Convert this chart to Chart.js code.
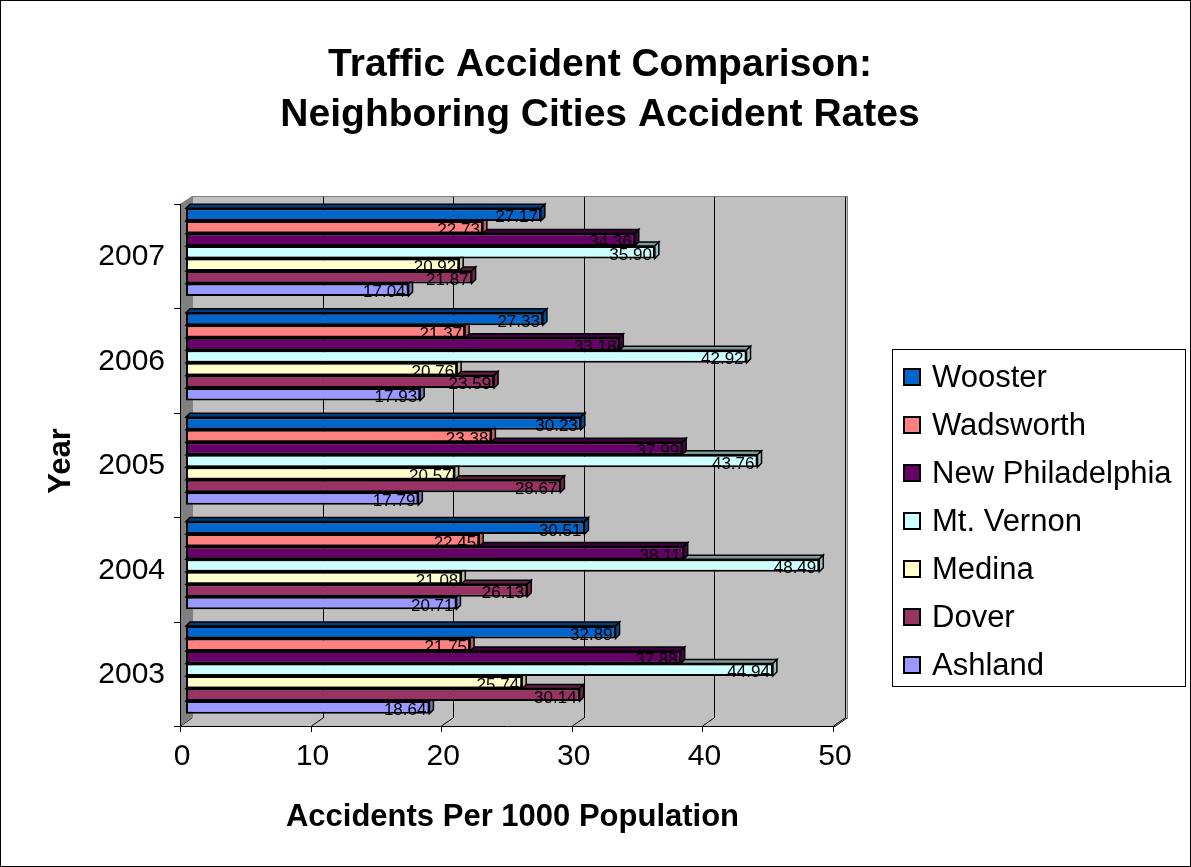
<!DOCTYPE html>
<html>
<head>
<meta charset="utf-8">
<script src="https://cdn.jsdelivr.net/npm/chart.js@4.4.0/dist/chart.umd.min.js"></script>
<style>
  html, body { margin: 0; padding: 0; background: #fff; }
</style>
</head>
<body>
<canvas id="myChart" width="1191" height="867"></canvas>
<script>
// Datos
var years = ["2007", "2006", "2005", "2004", "2003"];
var cities = ["Wooster", "Wadsworth", "New Philadelphia", "Mt. Vernon", "Medina", "Dover", "Ashland"];
var wooster    = [27.17, 27.33, 30.23, 30.51, 32.89];
var wadsworth  = [22.73, 21.37, 23.38, 22.45, 21.75];
var newPhila   = [34.36, 33.18, 37.99, 38.11, 37.88];
var mtVernon   = [35.90, 42.92, 43.76, 48.49, 44.94];
var medina     = [20.92, 20.76, 20.57, 21.08, 25.74];
var dover      = [21.87, 23.59, 28.67, 26.13, 30.14];
var ashland    = [17.04, 17.93, 17.79, 20.71, 18.64];
var xTicks = [0, 10, 20, 30, 40, 50];
var titulo = ["Traffic Accident Comparison:", "Neighboring Cities Accident Rates"];

var colores = ["#0066CC", "#FF8080", "#660066", "#CCFFFF", "#FFFFCC", "#993366", "#9999FF"];
var series = [wooster, wadsworth, newPhila, mtVernon, medina, dover, ashland];
var fuente = "'Liberation Sans', Arial, sans-serif";

// oscurece un color hex
function oscuro(hex, f) {
  var r = parseInt(hex.substr(1, 2), 16), g = parseInt(hex.substr(3, 2), 16), b = parseInt(hex.substr(5, 2), 16);
  return "rgb(" + Math.round(r * f) + "," + Math.round(g * f) + "," + Math.round(b * f) + ")";
}

var PROF = 4; // profundidad 3D de las barras

// Paredes, piso, caras 3D, etiquetas, titulo y leyenda
var paredes = {
  id: "paredes",
  beforeDatasetsDraw: function (chart) {
    var c = chart.ctx, a = chart.chartArea, sx = chart.scales.x;
    var L = a.left, R = a.right, T = a.top, B = a.bottom;
    c.save();
    // pared del fondo
    c.fillStyle = "#C0C0C0";
    c.fillRect(L + 6, T - 4, R + 8 - (L + 6), B - T);
    c.strokeStyle = "#000"; c.lineWidth = 1;
    xTicks.forEach(function (v) {
      if (v === 0) return;
      var p = Math.round(sx.getPixelForValue(v)) + 6.5;
      c.beginPath(); c.moveTo(p, T - 4); c.lineTo(p, B - 4); c.stroke();
    });
    c.strokeStyle = "#808080";
    c.strokeRect(L + 6.5, T - 3.5, R + 8 - (L + 6), B - T);
    // piso
    c.fillStyle = "#C0C0C0";
    c.beginPath();
    c.moveTo(L + 6, B - 4); c.lineTo(R + 8, B - 4); c.lineTo(R - 4, B + 4); c.lineTo(L - 6, B + 4);
    c.closePath(); c.fill();
    c.strokeStyle = "#000";
    c.beginPath(); c.moveTo(L - 6, B + 4.5); c.lineTo(R - 4, B + 4.5); c.lineTo(R + 8, B - 4); c.stroke();
    xTicks.forEach(function (v) {
      var p = Math.round(sx.getPixelForValue(v));
      c.beginPath(); c.moveTo(p + 6, B - 4); c.lineTo(p - 5.5, B + 4); c.lineTo(p - 5.5, B + 10); c.stroke();
    });
    // pared izquierda
    c.fillStyle = "#808080";
    c.beginPath();
    c.moveTo(L - 6, T + 4); c.lineTo(L + 6, T - 4); c.lineTo(L + 6, B - 4); c.lineTo(L - 6, B + 4);
    c.closePath(); c.fill();
    c.strokeStyle = "#000";
    c.beginPath(); c.moveTo(L - 5.5, T + 4); c.lineTo(L - 5.5, B + 4); c.stroke();
    var paso = (B - T) / years.length;
    for (var i = 0; i <= years.length; i++) {
      var y = Math.round(T + paso * i) + 4.5;
      c.beginPath(); c.moveTo(L - 12, y); c.lineTo(L - 5, y); c.stroke();
    }
    c.restore();
  },
  // caras 3D: se dibujan antes de cada serie
  beforeDatasetDraw: function (chart, args) {
    var c = chart.ctx, meta = args.meta, col = colores[args.index];
    c.save();
    c.lineWidth = 1.5; c.strokeStyle = "#000";
    meta.data.forEach(function (bar) {
      var top = bar.y - bar.height / 2, bot = bar.y + bar.height / 2;
      c.fillStyle = oscuro(col, 0.6);
      c.beginPath();
      c.moveTo(bar.base, top); c.lineTo(bar.base + PROF, top - PROF);
      c.lineTo(bar.x + PROF, top - PROF); c.lineTo(bar.x, top); c.closePath();
      c.fill(); c.stroke();
      c.fillStyle = oscuro(col, 0.75);
      c.beginPath();
      c.moveTo(bar.x, top); c.lineTo(bar.x + PROF, top - PROF);
      c.lineTo(bar.x + PROF, bot - PROF); c.lineTo(bar.x, bot); c.closePath();
      c.fill(); c.stroke();
    });
    c.restore();
  },
  // etiquetas de valores
  afterDatasetsDraw: function (chart) {
    var c = chart.ctx;
    c.save();
    c.font = "17px " + fuente;
    c.fillStyle = "#000";
    c.textAlign = "right";
    c.textBaseline = "middle";
    chart.data.datasets.forEach(function (ds, i) {
      chart.getDatasetMeta(i).data.forEach(function (bar, j) {
        c.fillText(ds.data[j].toFixed(2), bar.x - 3, bar.y + 3);
      });
    });
    c.restore();
  },
  // titulo, leyenda y borde
  afterDraw: function (chart) {
    var c = chart.ctx;
    c.save();
    c.fillStyle = "#000";
    c.textAlign = "center"; c.textBaseline = "alphabetic";
    c.font = "bold 39px " + fuente;
    c.fillText(titulo[0], 600, 76);
    c.fillText(titulo[1], 600, 126);

    c.strokeStyle = "#000"; c.lineWidth = 1;
    c.strokeRect(892.5, 349.5, 293, 337);
    c.font = "31px " + fuente;
    c.textBaseline = "middle"; c.textAlign = "left";
    cities.forEach(function (n, i) {
      var y = 377.3 + i * 47.95;
      var y0 = Math.round(y - 9);
      c.fillStyle = colores[i];
      c.fillRect(903, y0, 18, 18);
      c.lineWidth = 2;
      c.strokeRect(904, y0 + 1, 16, 16);
      c.fillStyle = "#000";
      c.fillText(n, 932, y + 1);
    });
    c.lineWidth = 1;
    c.strokeRect(0.5, 0.5, 1190, 866);
    c.restore();
  }
};

var ctx = document.getElementById("myChart").getContext("2d");

new Chart(ctx, {
  type: "bar",
  data: {
    labels: years,
    datasets: cities.map(function (n, i) {
      return {
        label: n,
        data: series[i],
        backgroundColor: colores[i],
        borderColor: "#000",
        borderWidth: 2,
        borderSkipped: false,
        categoryPercentage: 0.84,
        barPercentage: 1.0
      };
    })
  },
  options: {
    responsive: false,
    animation: false,
    indexAxis: "y",
    layout: { padding: { left: 40, right: 352, top: 200, bottom: 30 } },
    plugins: {
      legend: { display: false },
      tooltip: { enabled: false },
      title: { display: false }
    },
    scales: {
      x: {
        min: 0, max: 50,
        afterBuildTicks: function (s) { s.ticks = xTicks.map(function (v) { return { value: v }; }); },
        ticks: { color: "#000", padding: 17, labelOffset: -4, font: { family: fuente, size: 30 } },
        grid: { display: false, drawTicks: false },
        border: { display: false },
        title: {
          display: true, text: "Accidents Per 1000 Population", color: "#000",
          font: { family: fuente, size: 31, weight: "bold" },
          padding: { top: 0, bottom: 1 }
        },
        afterFit: function (s) { s.height = 115; }
      },
      y: {
        ticks: { color: "#000", padding: 21, labelOffset: 5, font: { family: fuente, size: 30 } },
        grid: { display: false, drawTicks: false },
        border: { display: false },
        title: {
          display: true, text: "Year", color: "#000",
          font: { family: fuente, size: 31, weight: "bold" },
          padding: { top: 3, bottom: 0 }
        },
        afterFit: function (s) { s.width = 146; }
      }
    }
  },
  plugins: [paredes]
});
</script>
</body>
</html>
